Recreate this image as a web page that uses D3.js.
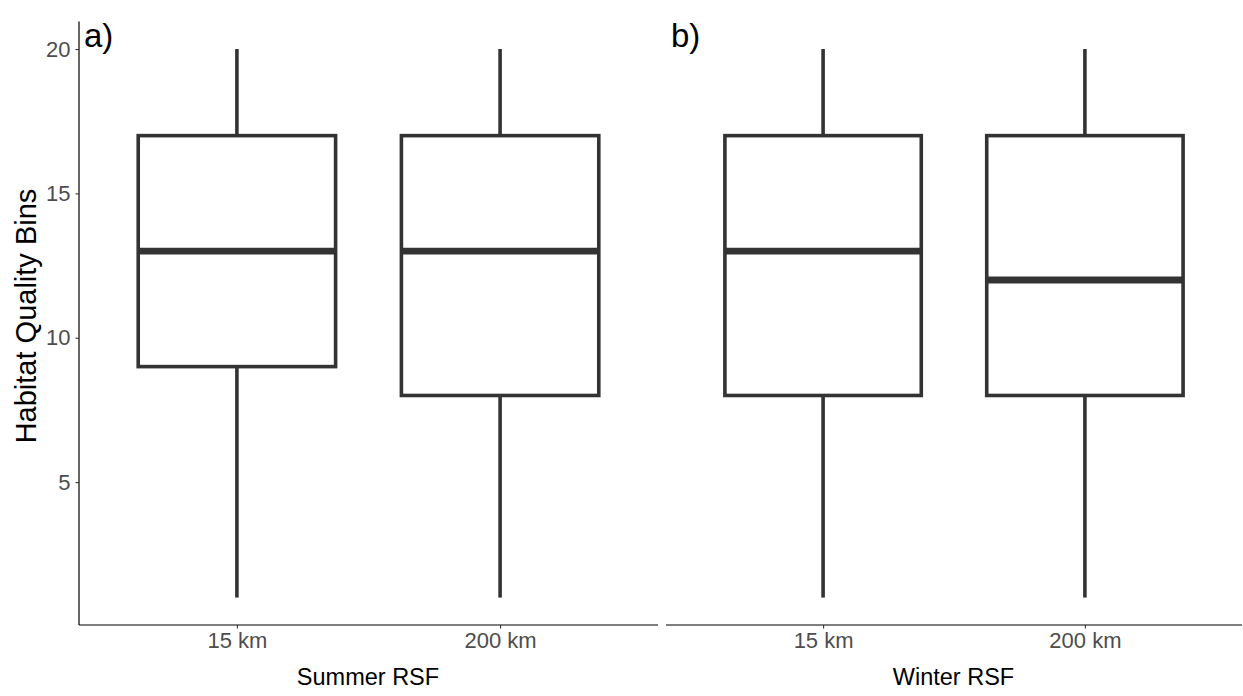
<!DOCTYPE html>
<html>
<head>
<meta charset="utf-8">
<script src="https://cdn.jsdelivr.net/npm/d3@7"></script>
<style>
  html, body { margin: 0; padding: 0; background: #fff; }
  svg { display: block; }
  text { font-family: "Liberation Sans", Arial, sans-serif; }
</style>
</head>
<body>
<svg id="chart" width="1243" height="696"></svg>
<script>
// Habitat quality bin distributions by RSF scale
const categories = ["15 km", "200 km"];
const yTicks = [5, 10, 15, 20];

// five-number summaries: [min, q1, median, q3, max]
const summerStats = [
  [1, 9, 13, 17, 20],
  [1, 8, 13, 17, 20]
];
const winterStats = [
  [1, 8, 13, 17, 20],
  [1, 8, 12, 17, 20]
];

const panels = [
  { tag: "a)", title: "Summer RSF", stats: summerStats, x0: 79, x1: 658, showY: true },
  { tag: "b)", title: "Winter RSF", stats: winterStats, x0: 666, x1: 1242, showY: false }
];

const svg = d3.select("#chart");
const plotTop = 21.6, plotBottom = 625;
const y = d3.scaleLinear().domain([0.05, 20.95]).range([plotBottom, plotTop]);
const boxColor = "#333333";
const tickFont = 22;
const lineW = 3.6;

panels.forEach(p => {
  const x = d3.scalePoint().domain(categories).range([p.x0, p.x1]).padding(0.6);
  const bw = x.step() * 0.75;
  const g = svg.append("g");

  const rows = categories.map((c, i) => ({ cat: c, s: p.stats[i] }));

  const box = g.selectAll("g.box").data(rows).join("g").attr("class", "box");
  // whiskers
  box.append("line")
    .attr("x1", d => x(d.cat)).attr("x2", d => x(d.cat))
    .attr("y1", d => y(d.s[4])).attr("y2", d => y(d.s[3]))
    .attr("stroke", boxColor).attr("stroke-width", lineW);
  box.append("line")
    .attr("x1", d => x(d.cat)).attr("x2", d => x(d.cat))
    .attr("y1", d => y(d.s[1])).attr("y2", d => y(d.s[0]))
    .attr("stroke", boxColor).attr("stroke-width", lineW);
  // box body
  box.append("rect")
    .attr("x", d => x(d.cat) - bw / 2)
    .attr("width", bw)
    .attr("y", d => y(d.s[3]))
    .attr("height", d => y(d.s[1]) - y(d.s[3]))
    .attr("fill", "#fff")
    .attr("stroke", boxColor).attr("stroke-width", lineW);
  // median
  box.append("line")
    .attr("x1", d => x(d.cat) - bw / 2).attr("x2", d => x(d.cat) + bw / 2)
    .attr("y1", d => y(d.s[2])).attr("y2", d => y(d.s[2]))
    .attr("stroke", boxColor).attr("stroke-width", 6.8);

  // x axis
  const xa = g.append("g").attr("transform", `translate(0,${plotBottom})`)
    .call(d3.axisBottom(x).tickSize(3.5).tickPadding(4).tickSizeOuter(0));
  xa.select(".domain").attr("stroke", "#000").attr("stroke-width", 1.2)
    .attr("d", `M${p.x0},0H${p.x1}`);
  xa.selectAll(".tick line").attr("stroke", "#333").attr("stroke-width", 1.1);
  xa.selectAll(".tick text").attr("fill", "#4d4d4d").attr("font-size", tickFont)
    .style("font-family", "Liberation Sans, Arial, sans-serif");

  if (p.showY) {
    const ya = g.append("g").attr("transform", `translate(${p.x0},0)`)
      .call(d3.axisLeft(y).tickValues(yTicks).tickSize(3.5).tickPadding(5).tickSizeOuter(0));
    ya.select(".domain").attr("stroke", "#000").attr("stroke-width", 1.2)
      .attr("d", `M0,${plotTop}V${plotBottom}`);
    ya.selectAll(".tick line").attr("stroke", "#333").attr("stroke-width", 1.1);
    ya.selectAll(".tick text").attr("fill", "#4d4d4d").attr("font-size", tickFont)
      .style("font-family", "Liberation Sans, Arial, sans-serif");
  }

  // axis title
  g.append("text")
    .attr("x", (p.x0 + p.x1) / 2 - 0.5).attr("y", 685)
    .attr("text-anchor", "middle")
    .attr("font-size", 23.5).attr("fill", "#000")
    .text(p.title);

  // panel tag
  g.append("text")
    .attr("x", p.x0 + 5).attr("y", 47)
    .attr("font-size", 33).attr("fill", "#000")
    .text(p.tag);
});

// y axis title
svg.append("text")
  .attr("transform", "translate(36,316) rotate(-90)")
  .attr("text-anchor", "middle")
  .attr("font-size", 29).attr("fill", "#000")
  .text("Habitat Quality Bins");
</script>
</body>
</html>
